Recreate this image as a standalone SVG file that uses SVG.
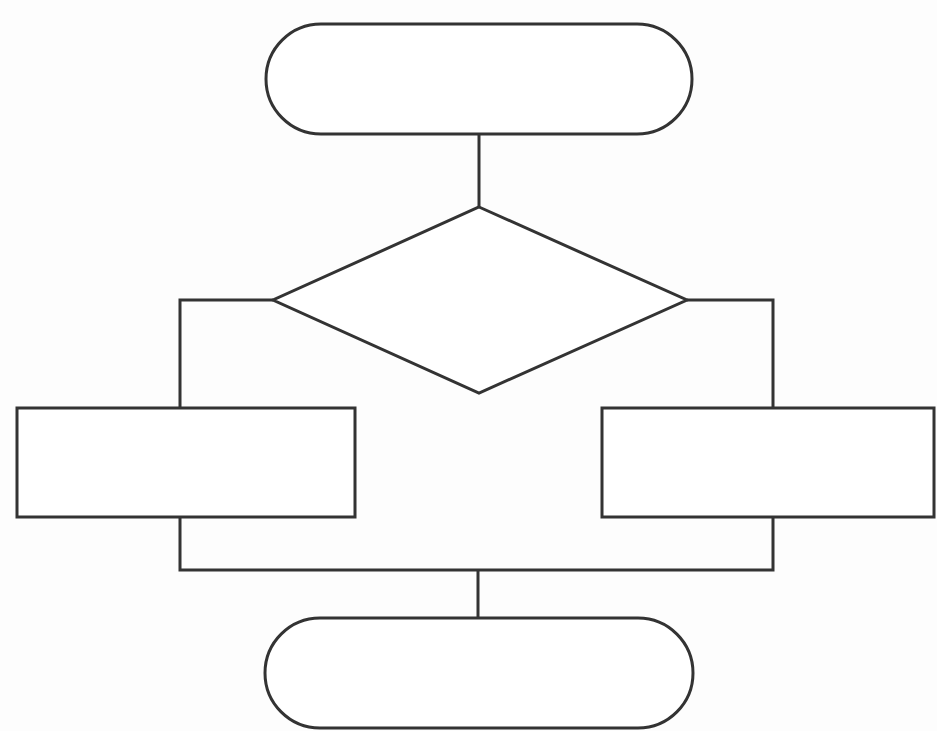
<svg xmlns="http://www.w3.org/2000/svg" width="937" height="731" viewBox="0 0 937 731">
<style>
.s{fill:#ffffff;stroke:#333333;stroke-width:3}
.c{fill:none;stroke:#333333;stroke-width:3}
</style>
<rect width="937" height="731" fill="#fdfdfd"/>
<g id="connectors">
<path class="c" d="M479,135 L479,207"/>
<path class="c" d="M273,300 L180,300 L180,408"/>
<path class="c" d="M687,300 L773,300 L773,408"/>
<path class="c" d="M180,517 L180,570 L773,570 L773,517"/>
<path class="c" d="M478,570 L478,618"/>
</g>
<g id="start"><rect class="s" x="266" y="24" width="426" height="110" rx="55"/></g>
<g id="decision"><polygon class="s" points="479,207 687,300 479,393 273,300"/></g>
<g id="left"><rect class="s" x="17" y="408" width="338" height="109"/></g>
<g id="right"><rect class="s" x="602" y="408" width="332" height="109"/></g>
<g id="end"><rect class="s" x="265" y="618" width="428" height="110" rx="55"/></g>
</svg>
